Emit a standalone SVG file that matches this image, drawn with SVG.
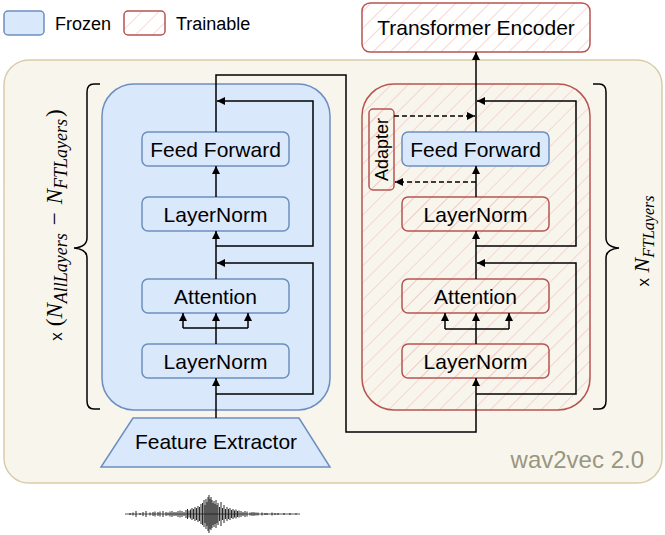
<svg xmlns="http://www.w3.org/2000/svg" width="665" height="535" viewBox="0 0 665 535">
<defs>
<pattern id="hatch" patternUnits="userSpaceOnUse" width="12" height="12" patternTransform="rotate(45)">
<line x1="0" y1="0" x2="0" y2="12" stroke="#f3c9c5" stroke-width="1.4"/>
</pattern>
<marker id="ah" markerUnits="userSpaceOnUse" markerWidth="8" markerHeight="8" refX="8" refY="4" orient="auto">
<path d="M0,0 L8,4 L0,8 z" fill="#000"/>
</marker>
</defs>
<style>
.frozen{fill:#dae8fc;stroke:#6c8ebf;stroke-width:1.5}
.train{fill:url(#hatch);stroke:#b85450;stroke-width:1.5}
.lbl{font-family:"Liberation Sans",Arial,sans-serif;font-size:21px;text-anchor:middle;fill:#000}
.leg{font-family:"Liberation Sans",Arial,sans-serif;font-size:18px;fill:#000}
.conn{fill:none;stroke:#000;stroke-width:1.5}
.dash{fill:none;stroke:#000;stroke-width:1.5;stroke-dasharray:5,3}
.brace{fill:none;stroke:#000;stroke-width:1.5}
.math{font-family:"Liberation Serif","Times New Roman",serif;fill:#000}
</style>

<g id="legend">
<rect class="frozen" x="4" y="11" width="40" height="24" rx="4"/>
<text class="leg" x="55" y="30">Frozen</text>
<rect x="124" y="11" width="41" height="24" rx="4" fill="#fff"/>
<rect class="train" x="124" y="11" width="41" height="24" rx="4"/>
<text class="leg" x="176" y="30">Trainable</text>
</g>

<g id="wav2vec">
<rect x="4" y="60" width="658" height="423" rx="25" fill="#f8f5ec" stroke="#d8cdaa" stroke-width="1.5"/>
<text x="644" y="468" font-family="'Liberation Sans',Arial,sans-serif" font-size="24" text-anchor="end" fill="#9a9682">wav2vec 2.0</text>
</g>

<g id="transformer-encoder">
<rect x="362" y="3" width="228" height="49" rx="8" fill="#fff"/>
<rect class="train" x="362" y="3" width="228" height="49" rx="8"/>
<text class="lbl" x="476" y="35">Transformer Encoder</text>
</g>

<g id="frozen-block">
<rect class="frozen" x="102" y="84" width="228" height="326" rx="32"/>
</g>
<g id="trainable-block">
<rect class="train" x="362" y="84" width="228" height="326" rx="32"/>
</g>

<g id="left-ff"><rect class="frozen" x="142" y="132" width="147" height="34" rx="6"/><text class="lbl" x="215.5" y="156.5">Feed Forward</text></g>
<g id="left-ln1"><rect class="frozen" x="142" y="197" width="147" height="34" rx="6"/><text class="lbl" x="215.5" y="221.5">LayerNorm</text></g>
<g id="left-att"><rect class="frozen" x="142" y="279" width="147" height="34" rx="6"/><text class="lbl" x="215.5" y="303.5">Attention</text></g>
<g id="left-ln2"><rect class="frozen" x="142" y="344" width="147" height="34" rx="6"/><text class="lbl" x="215.5" y="368.5">LayerNorm</text></g>

<g id="right-ff"><rect class="frozen" x="402" y="132" width="147" height="34" rx="6"/><text class="lbl" x="475.5" y="156.5">Feed Forward</text></g>
<g id="right-ln1"><rect class="train" x="402" y="197" width="147" height="34" rx="6"/><text class="lbl" x="475.5" y="221.5">LayerNorm</text></g>
<g id="right-att"><rect class="train" x="402" y="279" width="147" height="34" rx="6"/><text class="lbl" x="475.5" y="303.5">Attention</text></g>
<g id="right-ln2"><rect class="train" x="402" y="344" width="147" height="34" rx="6"/><text class="lbl" x="475.5" y="368.5">LayerNorm</text></g>

<g id="adapter"><rect class="train" x="369" y="109" width="25" height="81" rx="4"/><text class="lbl" transform="translate(388,149.5) rotate(-90)" x="0" y="0" style="font-size:18px">Adapter</text></g>

<g id="feature-extractor">
<polygon class="frozen" points="133,418 299,418 330,467 101,467"/>
<text class="lbl" x="216" y="449">Feature Extractor</text>
</g>

<g id="connectors">
<path class="conn" d="M216,418 V378" marker-end="url(#ah)"/>
<path class="conn" d="M216,344 V328"/>
<path class="conn" d="M183,328 H248"/>
<path class="conn" d="M183,328 V313" marker-end="url(#ah)"/>
<path class="conn" d="M216,328 V313" marker-end="url(#ah)"/>
<path class="conn" d="M248,328 V313" marker-end="url(#ah)"/>
<path class="conn" d="M216,279 V231" marker-end="url(#ah)"/>
<path class="conn" d="M216,197 V166" marker-end="url(#ah)"/>
<path class="conn" d="M216,394 H313 V263 H217" marker-end="url(#ah)"/>
<path class="conn" d="M216,246 H313 V101 H217" marker-end="url(#ah)"/>
<path class="conn" d="M216,132 V75 H346 V432 H476 V378" marker-end="url(#ah)"/>
<path class="conn" d="M476,344 V329"/>
<path class="conn" d="M445,329 H509"/>
<path class="conn" d="M445,329 V313" marker-end="url(#ah)"/>
<path class="conn" d="M476,329 V313" marker-end="url(#ah)"/>
<path class="conn" d="M509,329 V313" marker-end="url(#ah)"/>
<path class="conn" d="M476,279 V231" marker-end="url(#ah)"/>
<path class="conn" d="M476,197 V166" marker-end="url(#ah)"/>
<path class="conn" d="M476,132 V52" marker-end="url(#ah)"/>
<path class="conn" d="M476,394 H576 V263 H477" marker-end="url(#ah)"/>
<path class="conn" d="M476,246 H576 V101 H477" marker-end="url(#ah)"/>
<path class="dash" d="M394,116 H475" marker-end="url(#ah)"/>
<path class="dash" d="M476,182 H395" marker-end="url(#ah)"/>
</g>

<g id="braces">
<path class="brace" d="M100,84 H94 Q87,84 87,92 V238 Q87,247 74,248 Q87,249 87,258 V401 Q87,409 94,409 H100"/>
<path class="brace" d="M593,84 H599 Q606,84 606,92 V238 Q606,247 619,248 Q606,249 606,258 V401 Q606,409 599,409 H593"/>
<text class="math" transform="translate(62,225) rotate(-90)" text-anchor="middle" font-size="23"><tspan font-family="'Liberation Sans',Arial,sans-serif" font-size="17">x</tspan><tspan dx="6">(</tspan><tspan font-style="italic">N</tspan><tspan font-style="italic" font-size="18" dy="5">AllLayers</tspan><tspan dy="-5" dx="8">−</tspan><tspan font-style="italic" dx="8">N</tspan><tspan font-style="italic" font-size="18" dy="5">FTLayers</tspan><tspan dy="-5" dx="2">)</tspan></text>
<text class="math" transform="translate(649,241) rotate(-90)" text-anchor="middle" font-size="22"><tspan font-family="'Liberation Sans',Arial,sans-serif" font-size="17">x</tspan> <tspan font-style="italic">N</tspan><tspan font-style="italic" font-size="16" dy="5">FTLayers</tspan></text>
</g>

<g id="waveform">
<path d="M125,514 H300" stroke="#444" stroke-width="0.9" fill="none"/>
<path stroke="#111" stroke-width="1" fill="none" opacity="0.9" d="M130,513 V515 M133,512.5 V515.5 M136,511 V517 M140,513 V515 M143,512 V516 M146,511 V517 M150,512.5 V515.5 M153,512 V516 M155,511.5 V516.5 M158,512 V516 M160,511.5 V516.5 M163,511 V517 M166,512 V516 M168,512.5 V515.5 M170,511.5 V516.5 M172,511 V517 M174,512 V516 M176,512 V516 M178,511 V517 M180,510.5 V517.5 M182,511 V517 M184,512 V516 M186,510 V518 M187.5,509 V519 M189,510.5 V517.5 M190.5,509.5 V518.5 M192,508 V520 M193.5,509 V519 M195,507 V521 M196.5,508 V520 M198,506 V522 M199.5,507 V521 M201,504 V524 M202.5,503 V525 M204,500 V527 M205,505 V523 M206,499 V529 M207,502 V526 M208,497 V531 M209,495 V533 M210,499 V529 M211,497 V530 M212,500 V528 M213,503 V525 M214,501 V527 M215,504 V524 M216,500 V528 M217,505 V523 M218,503 V525 M219.5,507 V521 M221,502 V526 M222.5,508 V520 M224,505 V523 M225.5,509 V519 M227,507 V521 M228.5,509 V519 M230,508 V520 M231.5,510 V518 M233,509 V519 M234.5,510.5 V517.5 M236,509.5 V518.5 M237.5,511 V517 M239,510.5 V517.5 M241,511 V517 M243,512 V516 M245,511 V517 M247,511.5 V516.5 M250,512.5 V515.5 M252,512 V516 M254,512 V516 M256,512.5 V515.5 M258,512.5 V515.5 M262,512.5 V515.5 M265,513 V515 M267,513 V515 M272,512.5 V515.5 M275,513 V515 M278,513 V515 M284,513 V515 M290,513 V515 M296,513.2 V514.8"/>
</g>
</svg>
